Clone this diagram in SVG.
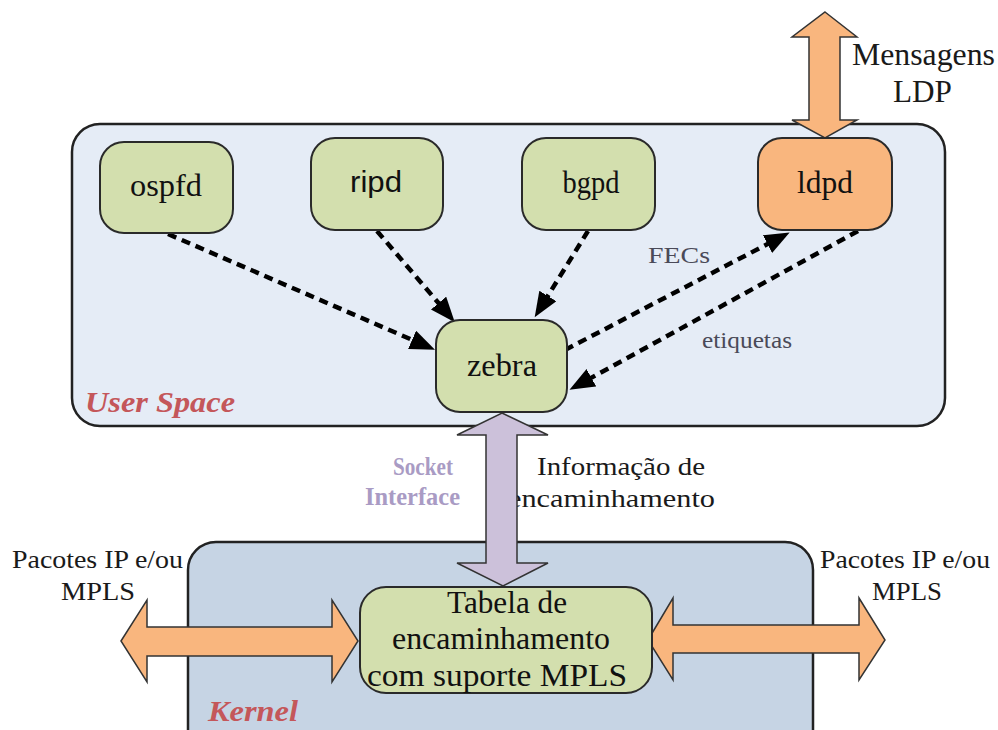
<svg xmlns="http://www.w3.org/2000/svg" width="998" height="730" viewBox="0 0 998 730">
<style>
.serif{font-family:"Liberation Serif","Times New Roman",serif;}
.sans{font-family:"Liberation Sans",Arial,sans-serif;}
.node{fill:#d3dfae;stroke:#2a2a2a;stroke-width:2;}
.lbl{fill:#111;text-anchor:middle;}
.dash{stroke:#000;stroke-width:4.5;stroke-dasharray:9 6;fill:none;}
.orange{fill:#f9b67e;stroke:#333;stroke-width:1.5;}
.purple{fill:#ccc1da;stroke:#333;stroke-width:1.5;}
.area{font-weight:bold;font-style:italic;fill:#c4575a;}
</style>
<defs>
<marker id="ah" markerUnits="userSpaceOnUse" markerWidth="26" markerHeight="22" refX="13" refY="10" orient="auto">
<path d="M0,0 L25,10 L0,20 Z" fill="#000"/>
</marker>
</defs>
<rect width="998" height="730" fill="#fff"/>

<g id="userspace">
<rect x="72" y="124" width="873" height="302" rx="28" fill="#e5ecf6" stroke="#222" stroke-width="2.5"/>
<text class="serif area" x="85" y="412" font-size="30" textLength="150" lengthAdjust="spacingAndGlyphs">User Space</text>
</g>
<g id="kernel">
<rect x="188" y="542" width="625" height="230" rx="28" fill="#c6d4e4" stroke="#222" stroke-width="2.5"/>
<text class="serif area" x="208" y="721" font-size="29" textLength="90" lengthAdjust="spacingAndGlyphs">Kernel</text>
</g>

<g id="labels">
<text class="serif" x="852" y="65" font-size="31" fill="#1a1a1a" textLength="143" lengthAdjust="spacingAndGlyphs">Mensagens</text>
<text class="serif" x="893" y="102" font-size="31" fill="#1a1a1a" textLength="59" lengthAdjust="spacingAndGlyphs">LDP</text>
<text class="serif" x="648" y="263" font-size="24" fill="#4a4a58" textLength="62" lengthAdjust="spacingAndGlyphs">FECs</text>
<text class="serif" x="702" y="348" font-size="24" fill="#4a4a58" textLength="90" lengthAdjust="spacingAndGlyphs">etiquetas</text>
<text class="serif" x="393" y="475" font-size="25" font-weight="bold" fill="#a99bc4" textLength="60" lengthAdjust="spacingAndGlyphs">Socket</text>
<text class="serif" x="365" y="505" font-size="25" font-weight="bold" fill="#a99bc4" textLength="95" lengthAdjust="spacingAndGlyphs">Interface</text>
<text class="serif" x="537" y="475" font-size="26" fill="#1a1a1a" textLength="168" lengthAdjust="spacingAndGlyphs">Informação de</text>
<text class="serif" x="508" y="507" font-size="26" fill="#1a1a1a" textLength="207" lengthAdjust="spacingAndGlyphs">encaminhamento</text>
<text class="serif" x="12" y="568" font-size="26" fill="#1a1a1a" textLength="171" lengthAdjust="spacingAndGlyphs">Pacotes IP e/ou</text>
<text class="serif" x="61" y="600" font-size="26" fill="#1a1a1a" textLength="74" lengthAdjust="spacingAndGlyphs">MPLS</text>
<text class="serif" x="820" y="568" font-size="26" fill="#1a1a1a" textLength="170" lengthAdjust="spacingAndGlyphs">Pacotes IP e/ou</text>
<text class="serif" x="872" y="600" font-size="26" fill="#1a1a1a" textLength="70" lengthAdjust="spacingAndGlyphs">MPLS</text>
</g>

<g id="connectors">
<line class="dash" x1="168" y1="234" x2="424" y2="345" marker-end="url(#ah)"/>
<line class="dash" x1="377" y1="231" x2="447" y2="313" marker-end="url(#ah)"/>
<line class="dash" x1="588" y1="231" x2="541" y2="307" marker-end="url(#ah)"/>
<line class="dash" x1="565" y1="350" x2="779" y2="238" marker-end="url(#ah)"/>
<line class="dash" x1="858" y1="231" x2="580" y2="384" marker-end="url(#ah)"/>
<path class="orange" d="M825,12 L857,37 L840,37 L840,120 L857,120 L825,138 L792,120 L809,120 L809,37 L792,37 Z"/>
<path class="purple" d="M502,413 L548,435 L517,435 L517,563 L548,563 L503,586 L457,563 L486,563 L486,435 L457,435 Z"/>
<path class="orange" d="M121,641 L147,600 L147,627 L332,627 L332,600 L358,641 L332,682 L332,656 L147,656 L147,682 Z"/>
<path class="orange" d="M648,640 L673,598 L673,625 L859,625 L859,598 L885,640 L859,680 L859,653 L673,653 L673,680 Z"/>
</g>

<g id="ospfd">
<rect class="node" x="100" y="142" width="133" height="91" rx="24"/>
<text class="serif lbl" x="166" y="196" font-size="31" textLength="72" lengthAdjust="spacingAndGlyphs">ospfd</text>
</g>
<g id="ripd">
<rect class="node" x="311" y="138" width="132" height="92" rx="24"/>
<text class="sans lbl" x="376" y="192" font-size="29" textLength="52" lengthAdjust="spacingAndGlyphs">ripd</text>
</g>
<g id="bgpd">
<rect class="node" x="522" y="138" width="133" height="92" rx="24"/>
<text class="serif lbl" x="591" y="193" font-size="31" textLength="57" lengthAdjust="spacingAndGlyphs">bgpd</text>
</g>
<g id="ldpd">
<rect x="758" y="138" width="134" height="92" rx="24" fill="#f9b67e" stroke="#2a2a2a" stroke-width="2"/>
<text class="serif lbl" x="825" y="193" font-size="31" textLength="56" lengthAdjust="spacingAndGlyphs">ldpd</text>
</g>
<g id="zebra">
<rect class="node" x="436" y="320" width="131" height="92" rx="24"/>
<text class="serif lbl" x="502" y="376" font-size="31" textLength="70" lengthAdjust="spacingAndGlyphs">zebra</text>
</g>
<g id="tabela">
<rect class="node" x="360" y="587" width="292" height="106" rx="26"/>
<text class="serif lbl" x="507" y="613" font-size="31" textLength="120" lengthAdjust="spacingAndGlyphs">Tabela de</text>
<text class="serif lbl" x="501" y="649" font-size="31" textLength="218" lengthAdjust="spacingAndGlyphs">encaminhamento</text>
<text class="serif lbl" x="497" y="686" font-size="31" textLength="260" lengthAdjust="spacingAndGlyphs">com suporte MPLS</text>
</g>
</svg>
